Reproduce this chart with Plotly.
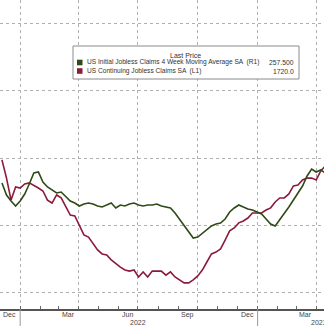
import pandas as pd
import plotly.graph_objects as go

# Weekly observations (week ending Saturdays)
dates = pd.date_range("2021-12-04", periods=72, freq="7D")

# US Continuing Jobless Claims SA (thousands) - left axis
continuing = [1743, 1675, 1593, 1642, 1638, 1653, 1657, 1649, 1638, 1627,
              1593, 1582, 1612, 1601, 1567, 1537, 1534, 1496, 1463, 1455,
              1433, 1407, 1392, 1388, 1370, 1355, 1343, 1332, 1328, 1332,
              1306, 1325, 1306, 1328, 1328, 1328, 1313, 1325, 1306, 1295,
              1284, 1284, 1295, 1310, 1332, 1362, 1392, 1399, 1411, 1444,
              1478, 1489, 1508, 1515, 1526, 1545, 1545, 1545, 1556, 1564,
              1586, 1601, 1601, 1616, 1646, 1649, 1668, 1675, 1675, 1668,
              1702, 1720]

# US Initial Jobless Claims 4 Week Moving Average SA (thousands) - right axis
initial_4wk = [247.5, 235.5, 229.5, 224.5, 229.5, 236.5, 246.5, 257.5, 258.5, 248.5,
               243.5, 240.5, 237.5, 238.5, 234.5, 229.5, 227.5, 224.5, 226.5, 227.5,
               226.5, 224.5, 223.5, 225.5, 227.5, 222.5, 225.5, 224.5, 226.5, 227.5,
               225.5, 224.5, 225.5, 225.5, 226.5, 224.5, 223.5, 222.5, 217.5, 211.5,
               204.5, 199.5, 192.5, 193.5, 197.5, 200.5, 204.5, 206.5, 207.5, 211.5,
               218.5, 222.5, 225.5, 223.5, 221.5, 220.5, 218.5, 216.5, 211.5, 206.5,
               204.5, 210.5, 216.5, 223.5, 230.5, 237.5, 244.5, 254.5, 261.5, 258.5,
               260.5, 257.5]

series_names = ["US Initial Jobless Claims 4 Week Moving Average SA  (R1)",
                "US Continuing Jobless Claims SA  (L1)"]
last_values = ["257.500", "1720.0"]

month_labels = ["Dec", "Mar", "Jun", "Sep", "Dec", "Mar"]
month_label_pos = ["2021-12-16", "2022-03-16", "2022-06-15", "2022-09-15",
                   "2022-12-16", "2023-03-16"]
quarter_grid = ["2022-01-01", "2022-04-01", "2022-07-01", "2022-10-01",
                "2023-01-01", "2023-04-01"]
year_labels = ["2022", "2023"]
year_label_pos = ["2022-07-01", "2023-03-21"]
year_starts = ["2022-01-01", "2023-01-01"]
left_grid = [1250, 1500, 1750, 2000, 2250]

GREEN = "#2f4a16"
RED = "#8a1b3b"
FONT = "Liberation Sans, Arial"
XR = ["2021-12-01", "2023-04-13"]
H = 309.0

fig = go.Figure()
fig.add_trace(go.Scatter(x=dates, y=continuing, mode="lines", yaxis="y",
                         line=dict(color=RED, width=1.6), name=series_names[1]))
fig.add_trace(go.Scatter(x=dates, y=initial_4wk, mode="lines", yaxis="y2",
                         line=dict(color=GREEN, width=1.6), name=series_names[0]))

fig.update_layout(
    width=324, height=326,
    margin=dict(l=0, r=0, t=0, b=17),
    paper_bgcolor="white", plot_bgcolor="white",
    showlegend=False,
    font=dict(family=FONT, size=7, color="#444"),
    xaxis=dict(type="date", range=XR, tickmode="array", tickvals=quarter_grid,
               showticklabels=False,
               showgrid=True, gridcolor="#b0b0b0", griddash="dot", gridwidth=1,
               ticks="inside", ticklen=3, tickcolor="#666",
               minor=dict(ticks="inside", ticklen=3, tickcolor="#666",
                          dtick="M1", tick0="2022-01-01", showgrid=False),
               showline=True, linecolor="#555", linewidth=1.5, zeroline=False),
    yaxis=dict(range=[1186.6, 2339.5], tickmode="array", tickvals=left_grid,
               showticklabels=False, showgrid=True, gridcolor="#b0b0b0",
               griddash="dot", gridwidth=1, zeroline=False, showline=False,
               ticks=""),
    yaxis2=dict(range=[121.5, 430.5], overlaying="y", side="right",
                showticklabels=False, showgrid=False, zeroline=False,
                showline=False, ticks=""),
)

# month labels
for pos, lab in zip(month_label_pos, month_labels):
    fig.add_annotation(x=pos, xref="x", y=1 - 314.5 / H, yref="paper",
                       text=lab, showarrow=False, yanchor="middle",
                       font=dict(family=FONT, size=7, color="#444"))
# year labels
for i, (pos, lab) in enumerate(zip(year_label_pos, year_labels)):
    fig.add_annotation(x=pos, xref="x", y=1 - 322 / H, yref="paper",
                       text=lab, showarrow=False, yanchor="middle",
                       xanchor="center" if i == 0 else "left",
                       font=dict(family=FONT, size=7, color="#444"))
# year separators
for ys in year_starts:
    fig.add_shape(type="line", xref="x", yref="paper", x0=ys, x1=ys,
                  y0=0, y1=1 - 326 / H, line=dict(color="#999", width=1))

# legend box
def py(p):
    return 1 - p / H
def px(p):
    return p / 324.0

fig.add_shape(type="rect", xref="paper", yref="paper",
              x0=px(73), x1=px(299), y0=py(79), y1=py(46),
              line=dict(color="#8a8a8a", width=1), fillcolor="white", layer="above")
fig.add_annotation(x=px(185), y=py(55.5), xref="paper", yref="paper",
                   text="Last Price", showarrow=False, xanchor="center", yanchor="middle",
                   font=dict(family=FONT, size=7, color="#333"))
rows = [(62.5, GREEN, series_names[0], last_values[0]),
        (71.0, RED, series_names[1], last_values[1])]
for yy, col, name, val in rows:
    fig.add_shape(type="rect", xref="paper", yref="paper",
                  x0=px(77), x1=px(82.5), y0=py(yy + 2.8), y1=py(yy - 2.8),
                  line=dict(width=0), fillcolor=col, layer="above")
    fig.add_annotation(x=px(85), y=py(yy), xref="paper", yref="paper",
                       text=name, showarrow=False, xanchor="left", yanchor="middle",
                       font=dict(family=FONT, size=6.6, color="#333"))
    fig.add_annotation(x=px(296), y=py(yy), xref="paper", yref="paper",
                       text=val, showarrow=False, xanchor="right", yanchor="middle",
                       font=dict(family=FONT, size=6.8, color="#333"))

fig.write_html("out.html")
